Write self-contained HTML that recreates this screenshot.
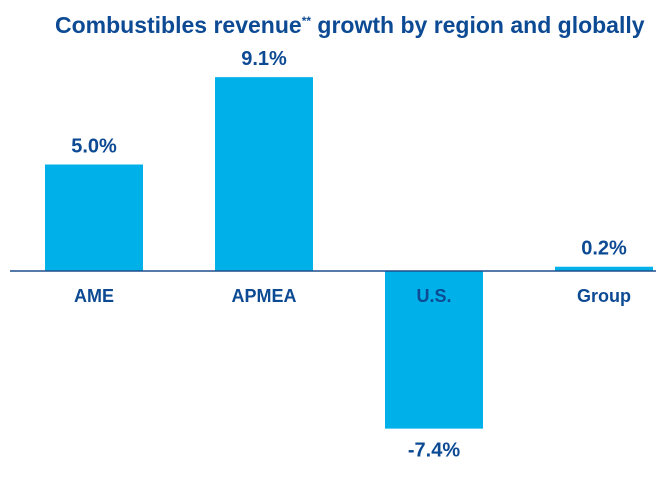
<!DOCTYPE html>
<html><head><meta charset="utf-8"><style>
body{margin:0;background:#fff;}
svg{display:block;font-family:"Liberation Sans",sans-serif;font-weight:bold;}
</style></head><body>
<svg width="667" height="477">
<text x="55" y="33" font-size="23" fill="#0d4a94">Combustibles revenue<tspan font-size="12" dy="-8">**</tspan><tspan dy="8"> growth by region and globally</tspan></text>
<g id="bars"></g>
<line x1="10" x2="656" y1="271" y2="271" stroke="#1d4d8c" stroke-width="1.5"/>
</svg>
<script>
const categories=["AME","APMEA","U.S.","Group"];
const values=[5.0,9.1,-7.4,0.2];
const valueLabels=["5.0%","9.1%","-7.4%","0.2%"];
const ns="http://www.w3.org/2000/svg";
const g=document.getElementById("bars");
const y0=271, scale=21.3;
function y(v){return y0-v*scale;}
function xc(i){return 94+i*170;}
const bw=98;
categories.forEach((c,i)=>{
 const v=values[i];
 const r=document.createElementNS(ns,"rect");
 r.setAttribute("x",xc(i)-bw/2);
 r.setAttribute("y",Math.min(y(v),y0));
 r.setAttribute("width",bw);
 r.setAttribute("height",Math.abs(y(v)-y0));
 r.setAttribute("fill","#00b0e8");
 
 
 g.appendChild(r);
 const t=document.createElementNS(ns,"text");
 t.setAttribute("x",xc(i));
 t.setAttribute("y",v>=0?y(v)-12:y(v)+28);
 t.setAttribute("text-anchor","middle");
 t.setAttribute("font-size","20");
 t.setAttribute("fill","#0d4a94");
 t.textContent=valueLabels[i];
 
 
 g.appendChild(t);
 const l=document.createElementNS(ns,"text");
 l.setAttribute("x",xc(i));
 l.setAttribute("y",302);
 l.setAttribute("text-anchor","middle");
 l.setAttribute("font-size","18");
 l.setAttribute("fill","#0d4a94");
 l.textContent=c;
 
 
 g.appendChild(l);
});
</script>
</body></html>
